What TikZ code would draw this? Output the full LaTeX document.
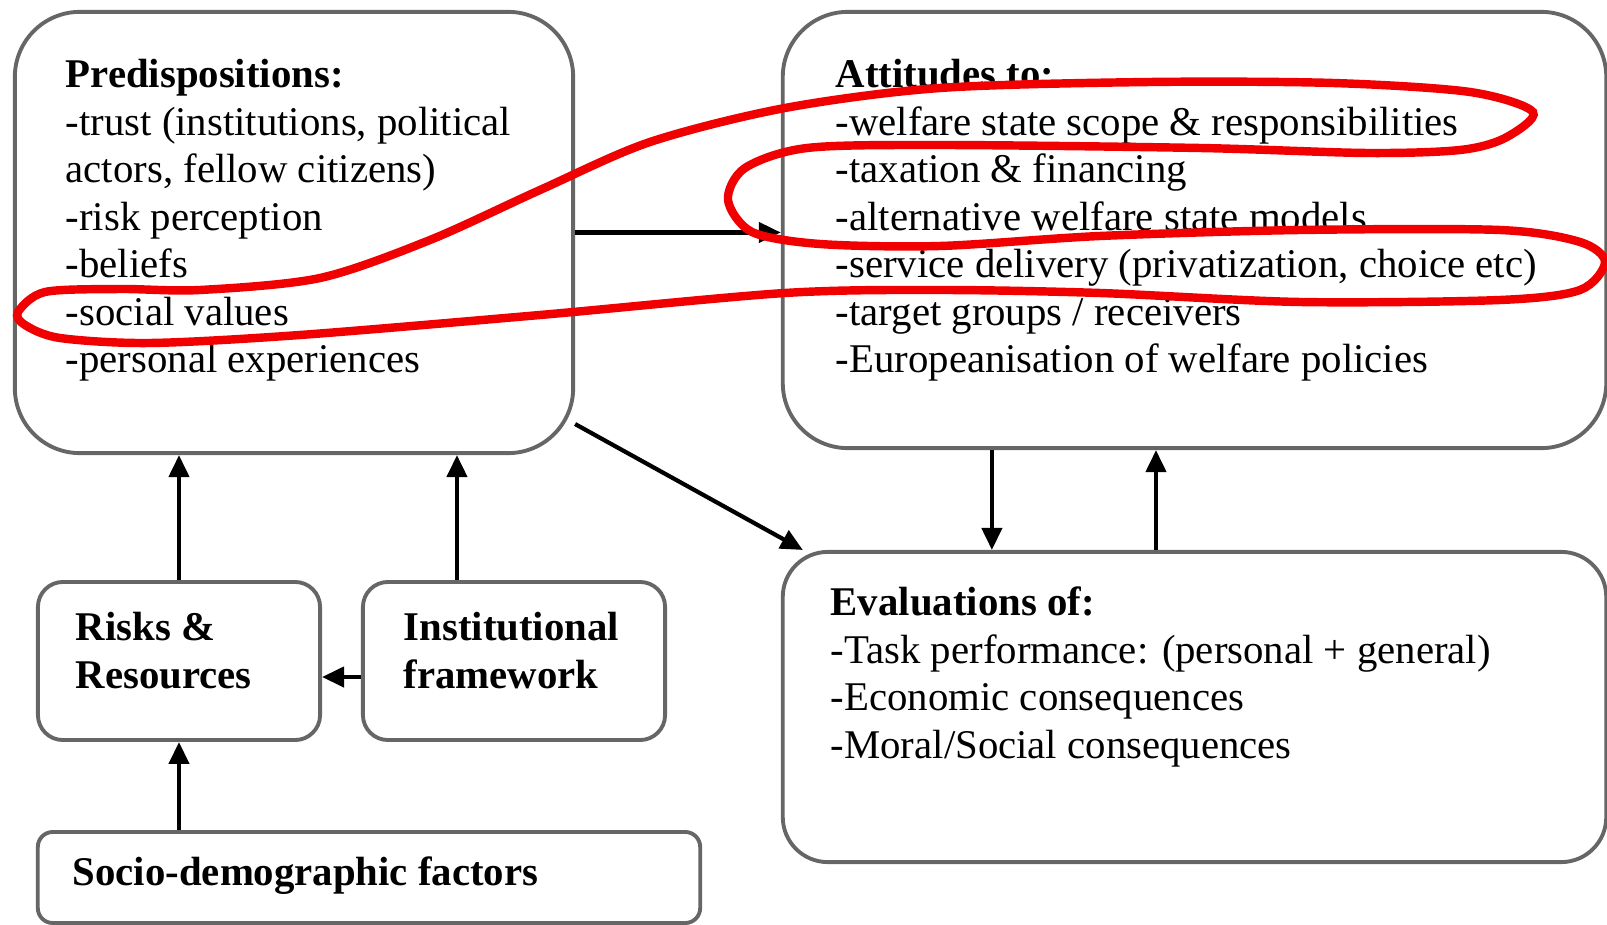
\documentclass[tikz,border=0pt]{standalone}
\usepackage{fontspec}
\setmainfont{Liberation Serif}
\usetikzlibrary{arrows.meta}
\definecolor{loopred}{RGB}{240,0,0}
\begin{document}
\begin{tikzpicture}[x=0.01cm,y=-0.01cm]
\tikzstyle{every node}+=[inner sep=0pt]
\tikzstyle{box}=[draw=black!60, line width=1.1pt, rectangle]
\tikzstyle{txt}=[anchor=north west, align=left, font=\fontsize{11.6}{13.5}\selectfont]
\tikzstyle{arr}=[draw=black, line width=1.2pt, -{Triangle[length=0.22cm,width=0.2cm]}]
\useasboundingbox (0,0) rectangle (1607,925);
% boxes
\node [box, rounded corners=0.65cm, minimum width=5.58cm, minimum height=4.41cm] (pred) at (294,232.5) {};
\node [box, rounded corners=0.65cm, minimum width=8.23cm, minimum height=4.36cm] (att) at (1194.5,230) {};
\node [box, rounded corners=0.45cm, minimum width=8.23cm, minimum height=3.10cm] (eval) at (1194.5,707) {};
\node [box, rounded corners=0.25cm, minimum width=2.82cm, minimum height=1.58cm] (risk) at (179,661) {};
\node [box, rounded corners=0.25cm, minimum width=3.02cm, minimum height=1.58cm] (inst) at (514,661) {};
\node [box, rounded corners=0.15cm, minimum width=6.62cm, minimum height=0.91cm] (socio) at (369,877.5) {};
% texts
\node [txt] (predtxt) at (65,54) {\strut\textbf{Predispositions:}\\-trust (institutions, political\\actors, fellow citizens)\\-risk perception\\-beliefs\\-social values\\-personal experiences};
\node [txt] (atttxt) at (835,54) {\strut\textbf{Attitudes to:}\\-welfare state scope \& responsibilities\\-taxation \& financing\\-alternative welfare state models\\-service delivery (privatization, choice etc)\\-target groups / receivers\\-Europeanisation of welfare policies};
\node [txt] (evaltxt) at (830,582) {\strut\textbf{Evaluations of:}\\-Task performance: (personal + general)\\-Economic consequences\\-Moral/Social consequences};
\node [txt] (risktxt) at (75,607) {\strut\textbf{Risks \&}\\\textbf{Resources}};
\node [txt] (insttxt) at (403,607) {\strut\textbf{Institutional}\\\textbf{framework}};
\node [txt] (sociotxt) at (72,852) {\strut\textbf{Socio-demographic factors}};
% arrows
\draw [arr] (risk.north) -- (risk.north |- pred.south);
\draw [arr] ([xshift=-0.57cm]inst.north) -- ([xshift=-0.57cm]inst.north |- pred.south);
\draw [arr] (socio.north -| risk.south) -- (risk.south);
\draw [arr] ([yshift=-0.16cm]inst.west) -- ([yshift=-0.16cm]risk.east);
\draw [arr] (pred.east) -- (pred.east -| att.west);
\draw [arr] ([yshift=0.31cm]pred.south east) -- ([xshift=0.22cm]eval.north west);
\draw [arr] ([xshift=-2.025cm]att.south) -- ([xshift=-2.025cm]att.south |- eval.north);
\draw [arr] ([xshift=-0.385cm]eval.north) -- ([xshift=-0.385cm]eval.north |- att.south);
% red loop
\draw [loopred, line width=2.4pt] plot [smooth cycle, tension=0.5] coordinates {
(18,312) (45,292) (120,289) (200,290) (320,278) (430,240) (540,190) (650,142)
(785,108) (940,88) (1150,82) (1333,83) (1470,92) (1533,112) (1505,138) (1460,150)
(1367,153) (1200,148) (940,145) (807,148) (745,168) (728,200) (752,232) (820,244)
(940,246) (1100,236) (1300,230) (1500,230) (1580,242) (1605,262) (1580,290) (1500,300)
(1300,302) (1100,293) (940,290) (785,293) (540,315) (300,335) (150,343) (60,338) (25,325)};
\end{tikzpicture}
\end{document}
